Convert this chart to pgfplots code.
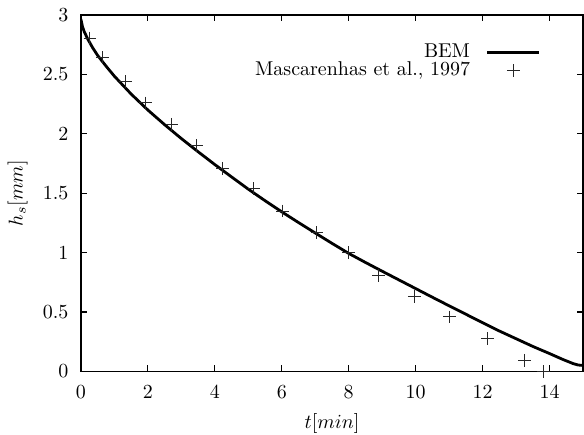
\documentclass[border=0pt]{standalone}
\usepackage{pgfplots}
\pgfplotsset{compat=1.18}

\begin{document}
\begin{tikzpicture}
\begin{axis}[
    scale only axis,
    width=251.5pt,
    height=178.5pt,
    xmin=0, xmax=15,
    ymin=0, ymax=3,
    xtick={0,2,4,6,8,10,12,14},
    ytick={0,0.5,1,1.5,2,2.5,3},
    xlabel={$t[min]$},
    ylabel={$h_s[mm]$},
    xlabel style={at={(axis description cs:0.5,0)}, anchor=center, yshift=-26pt, inner sep=0.5pt},
    ylabel style={at={(axis description cs:-0.0922,0.5)}, anchor=south, rotate=0},
    tick align=inside,
    major tick length=3pt,
    tick style={black, line width=0.6pt},
    axis line style={black, line width=0.9pt},
    xticklabel style={yshift=-3.5pt},
    yticklabel style={xshift=-2.7pt},
    legend style={
        at={(0.928,0.93)},
        anchor=north east,
        draw=none,
        fill=none,
        nodes={inner ysep=0pt},
        row sep=0.5pt,
    },
    legend cell align=right,
    legend plot pos=right,
]

% BEM solution
\addplot[black, line width=1.4pt,
    legend image code/.code={\path (0pt,0pt); \draw[black, line width=1.2pt] (6pt,0pt) -- (32pt,0pt);}]
coordinates {
    (0,2.965) (0.05,2.90) (0.1,2.86) (0.2,2.80) (0.35,2.725) (0.5,2.66)
    (0.75,2.57) (1.0,2.485) (1.5,2.335) (2.0,2.20) (2.5,2.077) (3.0,1.96)
    (3.5,1.849) (4.0,1.741) (4.5,1.637) (5.0,1.534) (5.5,1.437) (6.0,1.343)
    (6.5,1.253) (7.0,1.165) (7.5,1.078) (8.0,0.993) (8.5,0.917) (9.0,0.843)
    (9.5,0.77) (10.0,0.697) (10.5,0.624) (11.0,0.552) (11.5,0.481) (12.0,0.41)
    (12.5,0.34) (13.0,0.275) (13.5,0.21) (14.0,0.15) (14.4,0.10) (14.7,0.066)
    (14.85,0.054) (15,0.05)
};
\addlegendentry{BEM}

% Mascarenhas et al. data
\addplot[only marks, mark=+, mark size=3.2pt, black!85, mark options={line width=0.5pt},
    legend image code/.code={\path (0pt,0pt) (32pt,0pt); \draw[black!85, line width=0.5pt] (19pt,-3.2pt) -- (19pt,3.2pt) (15.8pt,0pt) -- (22.2pt,0pt);}]
coordinates {
    (0.27,2.805) (0.64,2.64) (1.34,2.44) (1.93,2.26) (2.72,2.08) (3.45,1.90)
    (4.24,1.71) (5.17,1.54) (6.02,1.35) (7.05,1.17) (8.0,1.0) (8.9,0.81)
    (9.96,0.63) (11.02,0.458) (12.15,0.275) (13.25,0.094) (13.82,0.0)
};
\addlegendentry{Mascarenhas et al., 1997}

\end{axis}
% fix the outer frame to the reference proportions
\path (current axis.south west) ++(-40.5pt,-31.5pt);
\path (current axis.north east) ++(0pt,7.5pt);
\end{tikzpicture}
\end{document}
